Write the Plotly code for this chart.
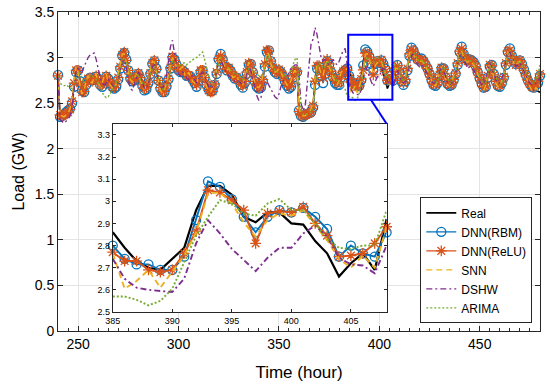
import plotly.graph_objects as go

# ---------------- data (hour 240 .. 480) ----------------
start_hour = 240

real = [
    2.80, 2.36, 2.35, 2.36, 2.37, 2.38, 2.40, 2.50, 2.70, 2.86, 2.88, 2.72, 2.58, 2.60, 2.72, 2.78, 2.76, 2.74, 2.79, 2.80, 2.74, 2.70, 2.73, 2.78,
    2.80, 2.76, 2.72, 2.70, 2.68, 2.72, 2.80, 2.92, 3.05, 3.09, 2.98, 2.86, 2.78, 2.75, 2.76, 2.80, 2.84, 2.78, 2.70, 2.66, 2.68, 2.74, 2.84, 2.95,
    2.99, 2.86, 2.74, 2.66, 2.62, 2.63, 2.70, 2.78, 2.90, 3.02, 2.98, 2.92, 2.87, 2.86, 2.88, 2.84, 2.80, 2.82, 2.80, 2.76, 2.74, 2.70, 2.78, 2.88,
    2.86, 2.78, 2.70, 2.66, 2.64, 2.66, 2.72, 2.86, 3.00, 3.03, 2.98, 2.92, 2.88, 2.90, 2.86, 2.80, 2.78, 2.80, 2.76, 2.72, 2.70, 2.76, 2.86, 2.96,
    2.92, 2.82, 2.74, 2.70, 2.68, 2.70, 2.78, 2.96, 3.12, 3.08, 2.96, 2.90, 2.86, 2.84, 2.88, 2.86, 2.80, 2.76, 2.72, 2.70, 2.74, 2.82, 2.86, 2.84,
    2.40, 2.36, 2.35, 2.36, 2.37, 2.38, 2.40, 2.46, 2.76, 2.94, 2.92, 2.86, 2.82, 2.90, 3.00, 2.94, 2.86, 2.80, 2.76, 2.72, 2.74, 2.82, 2.86, 2.88,
    2.90, 2.86, 2.79, 2.73, 2.70, 2.69, 2.74, 2.79, 2.96, 3.07, 3.07, 3.03, 2.93, 2.905, 2.95, 2.95, 2.90, 2.895, 2.82, 2.765, 2.66, 2.72, 2.765, 2.69,
    2.92, 2.90, 2.82, 2.74, 2.72, 2.78, 2.90, 3.06, 3.08, 3.06, 3.02, 2.98, 2.96, 2.98, 2.96, 2.92, 2.88, 2.82, 2.76, 2.72, 2.70, 2.74, 2.82, 2.90,
    2.86, 2.78, 2.72, 2.70, 2.72, 2.78, 2.84, 2.96, 3.08, 3.10, 3.02, 2.98, 2.96, 2.98, 2.96, 2.94, 2.90, 2.84, 2.78, 2.72, 2.66, 2.70, 2.82, 2.94,
    2.90, 2.80, 2.74, 2.70, 2.70, 2.74, 2.80, 2.96, 3.08, 3.07, 3.00, 2.96, 2.92, 2.96, 2.98, 2.92, 2.86, 2.80, 2.74, 2.70, 2.66, 2.64, 2.66, 2.63, 2.62,
]

dnn_rbm = [
    2.81, 2.35, 2.36, 2.38, 2.40, 2.42, 2.44, 2.50, 2.68, 2.84, 2.86, 2.74, 2.64, 2.62, 2.70, 2.76, 2.78, 2.75, 2.76, 2.79, 2.76, 2.70, 2.68, 2.74,
    2.79, 2.77, 2.72, 2.68, 2.66, 2.68, 2.76, 2.88, 3.02, 3.05, 2.98, 2.86, 2.77, 2.74, 2.75, 2.79, 2.82, 2.77, 2.69, 2.64, 2.65, 2.72, 2.82, 2.93,
    2.96, 2.88, 2.75, 2.66, 2.62, 2.62, 2.68, 2.76, 2.88, 3.00, 2.98, 2.92, 2.86, 2.84, 2.86, 2.84, 2.80, 2.80, 2.79, 2.76, 2.72, 2.68, 2.74, 2.84,
    2.86, 2.78, 2.70, 2.65, 2.63, 2.64, 2.70, 2.82, 2.98, 3.04, 2.98, 2.90, 2.86, 2.88, 2.85, 2.80, 2.77, 2.78, 2.75, 2.70, 2.67, 2.72, 2.82, 2.92,
    2.93, 2.84, 2.74, 2.68, 2.66, 2.67, 2.74, 2.90, 3.06, 3.08, 2.96, 2.88, 2.84, 2.82, 2.86, 2.84, 2.79, 2.74, 2.69, 2.66, 2.68, 2.78, 2.84, 2.84,
    2.42, 2.36, 2.35, 2.37, 2.38, 2.39, 2.40, 2.45, 2.70, 2.88, 2.90, 2.80, 2.72, 2.82, 2.96, 2.92, 2.84, 2.78, 2.72, 2.70, 2.70, 2.78, 2.84, 2.86,
    2.88, 2.80, 2.74, 2.715, 2.715, 2.69, 2.69, 2.75, 2.915, 3.09, 3.065, 3.01, 2.93, 2.86, 2.93, 2.96, 2.95, 2.97, 2.93, 2.875, 2.75, 2.80, 2.765, 2.75,
    2.86, 2.92, 2.84, 2.74, 2.70, 2.74, 2.86, 3.02, 3.11, 3.08, 3.02, 2.98, 2.98, 2.99, 2.96, 2.92, 2.88, 2.82, 2.75, 2.70, 2.69, 2.72, 2.80, 2.88,
    2.88, 2.78, 2.71, 2.69, 2.70, 2.75, 2.82, 2.92, 3.06, 3.12, 3.04, 2.99, 2.97, 2.98, 2.97, 2.95, 2.91, 2.84, 2.77, 2.71, 2.67, 2.68, 2.78, 2.90,
    2.92, 2.82, 2.74, 2.69, 2.68, 2.72, 2.78, 2.92, 3.06, 3.10, 3.02, 2.97, 2.93, 2.95, 2.97, 2.93, 2.87, 2.81, 2.75, 2.71, 2.68, 2.67, 2.70, 2.72, 2.80,
]

dnn_relu = [
    2.80, 2.37, 2.36, 2.37, 2.38, 2.40, 2.43, 2.52, 2.72, 2.86, 2.86, 2.72, 2.62, 2.63, 2.71, 2.77, 2.77, 2.74, 2.77, 2.80, 2.75, 2.71, 2.70, 2.76,
    2.80, 2.76, 2.72, 2.69, 2.67, 2.70, 2.78, 2.90, 3.03, 3.06, 2.97, 2.86, 2.78, 2.75, 2.76, 2.80, 2.83, 2.78, 2.70, 2.66, 2.67, 2.73, 2.83, 2.94,
    2.97, 2.87, 2.75, 2.67, 2.63, 2.63, 2.69, 2.77, 2.89, 3.01, 2.97, 2.92, 2.87, 2.85, 2.87, 2.84, 2.81, 2.81, 2.79, 2.76, 2.73, 2.70, 2.76, 2.86,
    2.86, 2.78, 2.70, 2.64, 2.62, 2.63, 2.71, 2.84, 2.99, 3.02, 2.97, 2.91, 2.87, 2.89, 2.85, 2.80, 2.78, 2.79, 2.76, 2.71, 2.69, 2.74, 2.84, 2.94,
    2.92, 2.83, 2.74, 2.69, 2.67, 2.69, 2.76, 2.93, 3.08, 3.07, 2.96, 2.89, 2.85, 2.83, 2.87, 2.85, 2.80, 2.75, 2.71, 2.68, 2.72, 2.80, 2.85, 2.85,
    2.41, 2.37, 2.36, 2.37, 2.38, 2.39, 2.41, 2.47, 2.74, 2.91, 2.91, 2.84, 2.78, 2.86, 2.98, 2.93, 2.85, 2.79, 2.75, 2.72, 2.73, 2.80, 2.85, 2.87,
    2.86, 2.77, 2.73, 2.73, 2.69, 2.68, 2.69, 2.765, 2.865, 3.05, 3.04, 3.005, 2.96, 2.81, 2.945, 2.955, 2.95, 2.975, 2.90, 2.845, 2.75, 2.755, 2.765, 2.81,
    2.885, 2.91, 2.84, 2.75, 2.72, 2.76, 2.88, 3.04, 3.09, 3.07, 3.02, 2.98, 2.97, 2.98, 2.96, 2.92, 2.88, 2.82, 2.76, 2.71, 2.70, 2.73, 2.81, 2.89,
    2.87, 2.79, 2.72, 2.70, 2.71, 2.76, 2.83, 2.94, 3.07, 3.10, 3.03, 2.98, 2.96, 2.98, 2.96, 2.94, 2.90, 2.84, 2.78, 2.72, 2.67, 2.69, 2.80, 2.92,
    2.91, 2.81, 2.74, 2.70, 2.69, 2.73, 2.79, 2.94, 3.07, 3.08, 3.01, 2.96, 2.92, 2.96, 2.97, 2.92, 2.86, 2.80, 2.75, 2.71, 2.68, 2.68, 2.71, 2.74, 2.82,
]

snn = [
    2.80, 2.38, 2.36, 2.35, 2.37, 2.39, 2.44, 2.55, 2.76, 2.90, 2.84, 2.68, 2.60, 2.64, 2.74, 2.80, 2.74, 2.72, 2.78, 2.82, 2.72, 2.68, 2.72, 2.80,
    2.82, 2.74, 2.70, 2.67, 2.66, 2.71, 2.82, 2.94, 3.04, 3.04, 2.94, 2.84, 2.76, 2.73, 2.78, 2.82, 2.82, 2.74, 2.68, 2.65, 2.70, 2.76, 2.86, 2.96,
    2.95, 2.84, 2.72, 2.64, 2.61, 2.64, 2.72, 2.80, 2.92, 3.00, 2.95, 2.90, 2.85, 2.88, 2.90, 2.82, 2.78, 2.84, 2.78, 2.74, 2.72, 2.70, 2.80, 2.88,
    2.84, 2.76, 2.68, 2.64, 2.63, 2.67, 2.74, 2.88, 2.98, 3.00, 2.95, 2.90, 2.86, 2.88, 2.84, 2.78, 2.79, 2.81, 2.74, 2.70, 2.70, 2.78, 2.88, 2.95,
    2.90, 2.80, 2.72, 2.68, 2.67, 2.71, 2.80, 2.95, 3.06, 3.03, 2.93, 2.88, 2.84, 2.85, 2.88, 2.84, 2.78, 2.74, 2.70, 2.69, 2.75, 2.82, 2.86, 2.82,
    2.44, 2.38, 2.36, 2.36, 2.38, 2.40, 2.44, 2.50, 2.78, 2.92, 2.90, 2.82, 2.80, 2.92, 2.96, 2.90, 2.83, 2.78, 2.74, 2.70, 2.75, 2.84, 2.86, 2.86,
    2.88, 2.765, 2.605, 2.64, 2.69, 2.61, 2.68, 2.755, 2.86, 3.035, 3.04, 2.99, 2.905, 2.84, 2.915, 2.945, 2.935, 2.96, 2.89, 2.825, 2.74, 2.70, 2.755, 2.70,
    2.885, 2.88, 2.80, 2.72, 2.71, 2.79, 2.92, 3.05, 3.06, 3.03, 3.00, 2.96, 2.95, 2.97, 2.94, 2.90, 2.86, 2.80, 2.74, 2.70, 2.69, 2.75, 2.84, 2.90,
    2.84, 2.76, 2.70, 2.69, 2.73, 2.80, 2.86, 2.97, 3.06, 3.07, 3.00, 2.96, 2.95, 2.97, 2.95, 2.92, 2.88, 2.82, 2.76, 2.70, 2.64, 2.70, 2.84, 2.95,
    2.88, 2.78, 2.72, 2.68, 2.69, 2.75, 2.82, 2.97, 3.06, 3.04, 2.98, 2.94, 2.91, 2.95, 2.96, 2.90, 2.84, 2.78, 2.72, 2.68, 2.64, 2.63, 2.67, 2.64, 2.70,
]

dshw = [
    2.80, 2.32, 2.30, 2.28, 2.30, 2.33, 2.36, 2.45, 2.70, 2.86, 2.88, 2.86, 2.84, 2.90, 2.96, 3.00, 3.03, 3.04, 3.05, 2.98, 2.86, 2.78, 2.72, 2.70,
    2.72, 2.76, 2.74, 2.70, 2.68, 2.70, 2.76, 2.84, 2.94, 2.98, 2.90, 2.76, 2.66, 2.64, 2.70, 2.78, 2.84, 2.80, 2.72, 2.66, 2.66, 2.72, 2.82, 2.90,
    2.92, 2.84, 2.74, 2.68, 2.66, 2.70, 2.80, 2.96, 3.12, 3.19, 3.04, 2.90, 2.82, 2.80, 2.84, 2.82, 2.78, 2.76, 2.78, 2.80, 2.76, 2.72, 2.76, 2.82,
    2.84, 2.78, 2.72, 2.68, 2.66, 2.68, 2.74, 2.86, 2.96, 2.98, 2.92, 2.86, 2.82, 2.80, 2.78, 2.76, 2.74, 2.76, 2.74, 2.72, 2.70, 2.74, 2.82, 2.90,
    2.86, 2.76, 2.66, 2.58, 2.53, 2.56, 2.64, 2.72, 2.74, 2.70, 2.66, 2.62, 2.57, 2.55, 2.60, 2.68, 2.74, 2.76, 2.78, 2.84, 2.88, 2.90, 2.92, 2.92,
    2.80, 2.50, 2.42, 2.45, 2.70, 2.95, 3.15, 3.20, 3.33, 3.25, 3.10, 3.00, 2.96, 2.98, 2.96, 2.92, 2.94, 2.98, 2.94, 2.92, 2.96, 3.02, 3.08, 3.10,
    2.90, 2.74, 2.65, 2.61, 2.60, 2.595, 2.59, 2.65, 2.81, 2.915, 2.855, 2.785, 2.735, 2.685, 2.745, 2.79, 2.79, 2.855, 2.89, 2.84, 2.745, 2.715, 2.71, 2.675,
    2.80, 2.86, 2.80, 2.74, 2.72, 2.74, 2.82, 2.94, 3.02, 3.04, 2.98, 2.92, 2.90, 2.92, 2.90, 2.86, 2.82, 2.78, 2.74, 2.72, 2.72, 2.76, 2.84, 2.90,
    2.86, 2.78, 2.72, 2.70, 2.72, 2.76, 2.82, 2.92, 3.02, 3.04, 2.98, 2.92, 2.88, 2.90, 2.88, 2.86, 2.82, 2.78, 2.74, 2.70, 2.72, 2.76, 2.84, 2.94,
    2.90, 2.82, 2.76, 2.72, 2.72, 2.76, 2.84, 2.96, 3.04, 3.06, 3.00, 2.94, 2.90, 2.92, 2.94, 2.90, 2.84, 2.80, 2.76, 2.72, 2.70, 2.70, 2.72, 2.74, 2.78,
]

arima = [
    2.80, 2.72, 2.70, 2.69, 2.70, 2.68, 2.67, 2.66, 2.70, 2.78, 2.84, 2.82, 2.76, 2.72, 2.74, 2.78, 2.80, 2.80, 2.78, 2.76, 2.72, 2.66, 2.62, 2.58,
    2.56, 2.57, 2.60, 2.64, 2.68, 2.72, 2.78, 2.86, 2.96, 3.00, 2.96, 2.88, 2.82, 2.78, 2.80, 2.82, 2.80, 2.76, 2.72, 2.70, 2.72, 2.76, 2.82, 2.88,
    2.90, 2.84, 2.76, 2.70, 2.66, 2.64, 2.68, 2.76, 2.88, 2.96, 2.96, 2.92, 2.90, 2.92, 2.94, 2.94, 2.92, 2.94, 2.96, 2.98, 2.99, 3.00, 3.02, 3.05,
    3.06, 2.98, 2.88, 2.80, 2.74, 2.70, 2.72, 2.82, 2.94, 3.00, 2.98, 2.94, 2.90, 2.88, 2.86, 2.84, 2.82, 2.82, 2.80, 2.78, 2.76, 2.78, 2.84, 2.88,
    2.88, 2.86, 2.84, 2.82, 2.80, 2.80, 2.82, 2.88, 2.98, 3.02, 2.96, 2.90, 2.86, 2.84, 2.84, 2.84, 2.82, 2.80, 2.78, 2.80, 2.86, 2.94, 2.98, 3.00,
    2.72, 2.42, 2.38, 2.37, 2.38, 2.39, 2.40, 2.43, 2.62, 2.86, 2.94, 2.92, 2.88, 2.90, 2.96, 2.94, 2.88, 2.82, 2.78, 2.74, 2.72, 2.74, 2.70, 2.65,
    2.58, 2.57, 2.57, 2.555, 2.53, 2.55, 2.605, 2.725, 2.845, 2.93, 3.005, 2.99, 2.945, 2.935, 2.99, 3.01, 2.96, 2.96, 2.90, 2.83, 2.79, 2.785, 2.80, 2.80,
    2.96, 2.94, 2.86, 2.78, 2.74, 2.76, 2.86, 3.00, 3.06, 3.06, 3.02, 2.98, 2.96, 2.97, 2.96, 2.93, 2.89, 2.84, 2.78, 2.74, 2.72, 2.74, 2.80, 2.88,
    2.90, 2.84, 2.76, 2.72, 2.72, 2.76, 2.82, 2.92, 3.04, 3.08, 3.04, 2.98, 2.96, 2.97, 2.96, 2.94, 2.90, 2.85, 2.79, 2.74, 2.70, 2.72, 2.80, 2.90,
    2.94, 2.86, 2.78, 2.72, 2.70, 2.72, 2.78, 2.90, 3.04, 3.08, 3.04, 2.98, 2.94, 2.95, 2.96, 2.93, 2.88, 2.82, 2.78, 2.74, 2.72, 2.72, 2.76, 2.82, 2.92,
]

series_names = ["Real", "DNN(RBM)", "DNN(ReLU)", "SNN", "DSHW", "ARIMA"]
x_ticks_main = [250, 300, 350, 400, 450]
zoom_start, zoom_end = 385, 408

# ---------------- styling ----------------
FONT = "Liberation Sans, Arial, Helvetica, sans-serif"
AX = "#262626"
GRID = "#e4e4e4"

styles = [
    dict(color="#000000", dash="solid", mode="lines", symbol=None),
    dict(color="#0072BD", dash="solid", mode="lines+markers", symbol="circle-open"),
    dict(color="#D95319", dash="solid", mode="lines+markers", symbol="asterisk-open"),
    dict(color="#EDB120", dash="6px,4px", mode="lines", symbol=None),
    dict(color="#7E2F8E", dash="6px,3px,2px,3px", mode="lines", symbol=None),
    dict(color="#77AC30", dash="2px,2px", mode="lines", symbol=None),
]
data = [real, dnn_rbm, dnn_relu, snn, dshw, arima]

fig = go.Figure()

def add(values, name, st, xa, ya, lw, ms, showlegend, lo=None, hi=None):
    hours = [start_hour + i for i in range(len(values))]
    if lo is not None:
        pairs = [(h, v) for h, v in zip(hours, values) if lo <= h <= hi]
        hours = [p[0] for p in pairs]
        values = [p[1] for p in pairs]
    marker = None
    if st["symbol"]:
        marker = dict(symbol=st["symbol"], size=ms, color=st["color"],
                      line=dict(color=st["color"], width=1.3))
    fig.add_trace(go.Scatter(
        x=hours, y=values, name=name, mode=st["mode"],
        line=dict(color=st["color"], width=lw, dash=st["dash"]),
        marker=marker, xaxis=xa, yaxis=ya, showlegend=showlegend,
        cliponaxis=False, hoverinfo="skip"))

for vals, name, st in zip(data, series_names, styles):
    add(vals, name, st, "x", "y", 1.4 if name != "Real" else 1.6, 9, True)
for vals, name, st in zip(data, series_names, styles):
    add(vals, name, st, "x2", "y2", 1.9 if name != "Real" else 2.2, 9, False,
        zoom_start, zoom_end)

# ---------------- axes ----------------
ins_x = [0.1136, 0.6818]
ins_y = [0.0596, 0.6495]

axis_common = dict(showline=True, linecolor=AX, linewidth=1, mirror="allticks",
                   ticks="inside", tickcolor=AX, zeroline=False, automargin=False,
                   tickfont=dict(family=FONT, size=14, color="#000"))
small = {**axis_common, "tickfont": dict(family=FONT, size=9, color="#000")}

fig.update_layout(
    width=550, height=386,
    margin=dict(l=58, r=10, t=12, b=55),
    paper_bgcolor="white", plot_bgcolor="white",
    font=dict(family=FONT, color="#000"),
    xaxis=dict(range=[240, 480], tickvals=x_ticks_main, ticklen=5,
               showgrid=True, gridcolor=GRID,
               minor=dict(dtick=5, tick0=0, ticks="inside", ticklen=3, tickcolor=AX, showgrid=False),
               title=dict(text="Time (hour)", font=dict(family=FONT, size=17), standoff=15),
               **axis_common),
    yaxis=dict(range=[0, 3.5], tick0=0, dtick=0.5, ticklen=5,
               showgrid=True, gridcolor=GRID,
               title=dict(text="Load (GW)", font=dict(family=FONT, size=16), standoff=6),
               **axis_common),
    xaxis2=dict(domain=ins_x, anchor="y2", range=[zoom_start, zoom_end], tick0=385, dtick=5,
                ticklen=3, showgrid=False, **small),
    yaxis2=dict(domain=ins_y, anchor="x2", range=[2.5, 3.35], tick0=2.5, dtick=0.1,
                ticklen=3, showgrid=False, **small),
    legend=dict(x=0.984, y=0.024, xanchor="right", yanchor="bottom",
                bgcolor="white", bordercolor=AX, borderwidth=1,
                font=dict(family=FONT, size=12, color="#000"),
                itemwidth=30, tracegroupgap=0),
    showlegend=True,
)

# zoom rectangle and connector
rect_x = [384.5, 406.5]
rect_y = [2.538, 3.25]
fig.add_shape(type="rect", xref="x", yref="y", x0=rect_x[0], x1=rect_x[1],
              y0=rect_y[0], y1=rect_y[1], line=dict(color="#0000FF", width=2))
conn_x = 395.8
fig.add_shape(type="line", xref="paper", yref="paper",
              x0=(conn_x - 240) / 240, y0=rect_y[0] / 3.5,
              x1=ins_x[1], y1=ins_y[1],
              line=dict(color="#0000FF", width=2))

fig.write_html("out.html", config={"displayModeBar": False},
               post_script="document.body.style.margin='0';document.body.style.overflow='hidden';")
